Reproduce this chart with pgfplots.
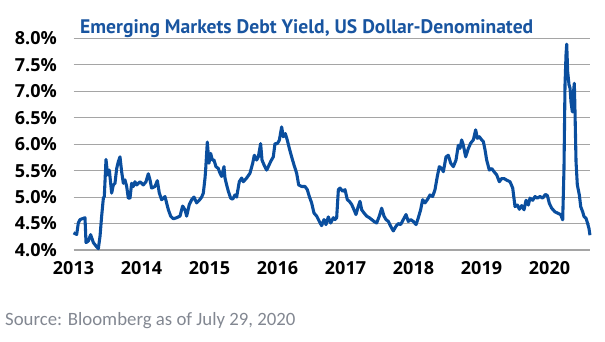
\documentclass[border=0pt]{standalone}
\usepackage{pgfplots}
\pgfplotsset{compat=1.18}
\usepackage{fontspec}
\setmainfont{Open Sans}
\newfontfamily\titlefont{PT Sans}
\newfontfamily\srcfont{Carlito}
\definecolor{lineblue}{RGB}{10,78,158}
\definecolor{titleblue}{RGB}{25,85,160}
\definecolor{gridgray}{RGB}{165,165,165}
\definecolor{srcgray}{RGB}{130,135,145}
\begin{document}
\begin{tikzpicture}[x=1bp,y=1bp]
\path[use as bounding box] (0,0) rectangle (605,341);
\begin{axis}[
  at={(73.5bp,91bp)}, anchor=south west,
  scale only axis, width=516.8bp, height=211.7bp,
  xmin=2013, xmax=2020.6, ymin=4, ymax=8,
  clip=false,
  axis line style={draw=none},
  major tick style={draw=none},
  ymajorgrids, grid style={gridgray, line width=1.1pt},
  ytick={4,4.5,5,5.5,6,6.5,7,7.5,8},
  yticklabels={4.0\%,4.5\%,5.0\%,5.5\%,6.0\%,6.5\%,7.0\%,7.5\%,8.0\%},
  xtick={2013,2014,2015,2016,2017,2018,2019,2020},
  xticklabels={2013,2014,2015,2016,2017,2018,2019,2020},
  yticklabel style={font=\fontsize{18bp}{20bp}\bfseries\selectfont, anchor=east, inner sep=0pt, xshift=-16.5bp},
  xticklabel style={font=\fontsize{18bp}{20bp}\bfseries\selectfont, anchor=north, inner sep=0pt, yshift=-11bp},
]
\addplot[lineblue, line width=3.1pt, line join=round] coordinates {
(2013.000,4.325) (2013.047,4.294) (2013.071,4.51) (2013.096,4.575) (2013.169,4.61) (2013.184,4.14)
(2013.218,4.17) (2013.252,4.29) (2013.292,4.14) (2013.331,4.075) (2013.365,4.025) (2013.390,4.26)
(2013.414,4.64) (2013.439,4.98) (2013.453,5.01) (2013.478,5.71) (2013.502,5.42) (2013.527,5.51)
(2013.561,5.075) (2013.586,5.23) (2013.610,5.26) (2013.635,5.54) (2013.659,5.67) (2013.684,5.76)
(2013.708,5.48) (2013.733,5.26) (2013.757,5.325) (2013.782,5.20) (2013.806,4.98) (2013.831,4.98)
(2013.855,5.26) (2013.880,5.20) (2013.904,5.29) (2013.929,5.23) (2013.978,5.29) (2014.027,5.23)
(2014.066,5.29) (2014.100,5.44) (2014.125,5.325) (2014.149,5.17) (2014.198,5.20) (2014.233,5.31)
(2014.262,5.075) (2014.296,4.95) (2014.345,5.01) (2014.395,4.76) (2014.429,4.64) (2014.468,4.59)
(2014.517,4.61) (2014.566,4.64) (2014.605,4.83) (2014.640,4.76) (2014.664,4.64) (2014.703,4.86)
(2014.738,4.95) (2014.772,5.00) (2014.811,4.89) (2014.850,4.94) (2014.885,5.00) (2014.909,5.075)
(2014.934,5.36) (2014.943,5.51) (2014.968,6.04) (2014.992,5.64) (2015.017,5.825) (2015.041,5.70)
(2015.066,5.70) (2015.095,5.575) (2015.130,5.54) (2015.154,5.45) (2015.179,5.39) (2015.213,5.575)
(2015.228,5.36) (2015.252,5.23) (2015.277,5.11) (2015.311,4.98) (2015.340,4.96) (2015.375,5.04)
(2015.399,5.00) (2015.438,5.29) (2015.473,5.36) (2015.497,5.29) (2015.546,5.36) (2015.595,5.45)
(2015.635,5.64) (2015.659,5.79) (2015.693,5.70) (2015.718,5.76) (2015.752,6.01) (2015.772,5.70)
(2015.801,5.61) (2015.840,5.51) (2015.865,5.575) (2015.899,5.67) (2015.938,5.76) (2015.963,6.01)
(2015.997,6.01) (2016.027,6.075) (2016.061,6.325) (2016.085,6.14) (2016.115,6.20) (2016.144,6.075)
(2016.174,5.92) (2016.208,5.76) (2016.242,5.61) (2016.282,5.45) (2016.311,5.23) (2016.355,5.20)
(2016.404,5.20) (2016.438,5.14) (2016.468,5.01) (2016.502,4.89) (2016.536,4.70) (2016.576,4.64)
(2016.615,4.54) (2016.649,4.46) (2016.684,4.575) (2016.713,4.48) (2016.747,4.625) (2016.782,4.51)
(2016.821,4.61) (2016.846,4.575) (2016.870,4.61) (2016.895,5.14) (2016.919,5.17) (2016.958,5.11)
(2016.993,5.14) (2017.027,4.95) (2017.056,4.92) (2017.091,4.86) (2017.125,4.76) (2017.154,4.67)
(2017.189,4.83) (2017.213,4.92) (2017.238,4.76) (2017.272,4.70) (2017.311,4.64) (2017.350,4.61)
(2017.385,4.575) (2017.419,4.54) (2017.458,4.51) (2017.497,4.64) (2017.532,4.79) (2017.566,4.64)
(2017.596,4.575) (2017.630,4.54) (2017.664,4.45) (2017.703,4.36) (2017.743,4.45) (2017.777,4.50)
(2017.811,4.48) (2017.850,4.575) (2017.890,4.67) (2017.924,4.54) (2017.958,4.575) (2017.997,4.54)
(2018.037,4.48) (2018.071,4.61) (2018.105,4.76) (2018.135,4.95) (2018.169,4.89) (2018.203,4.95)
(2018.243,5.04) (2018.282,5.01) (2018.316,5.14) (2018.350,5.39) (2018.380,5.575) (2018.414,5.54)
(2018.439,5.48) (2018.478,5.76) (2018.512,5.79) (2018.547,5.64) (2018.586,5.575) (2018.625,5.70)
(2018.659,5.98) (2018.684,5.92) (2018.708,6.08) (2018.733,5.98) (2018.767,5.76) (2018.807,5.92)
(2018.841,6.02) (2018.880,6.08) (2018.914,6.27) (2018.939,6.11) (2018.968,6.14) (2019.003,6.08)
(2019.027,6.05) (2019.052,5.89) (2019.076,5.70) (2019.115,5.51) (2019.150,5.54) (2019.184,5.48)
(2019.223,5.42) (2019.262,5.29) (2019.297,5.35) (2019.331,5.35) (2019.370,5.32) (2019.419,5.29)
(2019.459,5.17) (2019.493,4.82) (2019.527,4.85) (2019.557,4.77) (2019.591,4.84) (2019.625,4.76)
(2019.655,4.94) (2019.689,4.85) (2019.713,4.98) (2019.753,4.94) (2019.787,5.01) (2019.821,4.98)
(2019.860,5.01) (2019.900,4.98) (2019.939,5.05) (2019.968,5.03) (2019.998,4.88) (2020.032,4.79)
(2020.081,4.72) (2020.130,4.69) (2020.164,4.67) (2020.194,4.57) (2020.213,5.54) (2020.228,7.12)
(2020.243,7.69) (2020.253,7.89) (2020.267,7.37) (2020.287,7.12) (2020.302,7.06) (2020.316,6.80)
(2020.336,6.61) (2020.351,6.96) (2020.365,7.15) (2020.375,6.61) (2020.390,5.67) (2020.409,5.23)
(2020.439,5.04) (2020.459,4.82) (2020.488,4.72) (2020.508,4.63) (2020.537,4.60) (2020.561,4.50)
(2020.580,4.41) (2020.595,4.28)
};
\end{axis}
\node[anchor=base west, inner sep=0pt, text=titleblue] at (80,308)
  {\titlefont\fontsize{19.6bp}{22bp}\bfseries\selectfont Emerging Markets Debt Yield, US Dollar-Denominated};
\node[anchor=base west, inner sep=0pt, text=srcgray] at (5,16)
  {\srcfont\fontsize{18.8bp}{21bp}\selectfont Source: Bloomberg as of July 29, 2020};
\end{tikzpicture}
\end{document}
